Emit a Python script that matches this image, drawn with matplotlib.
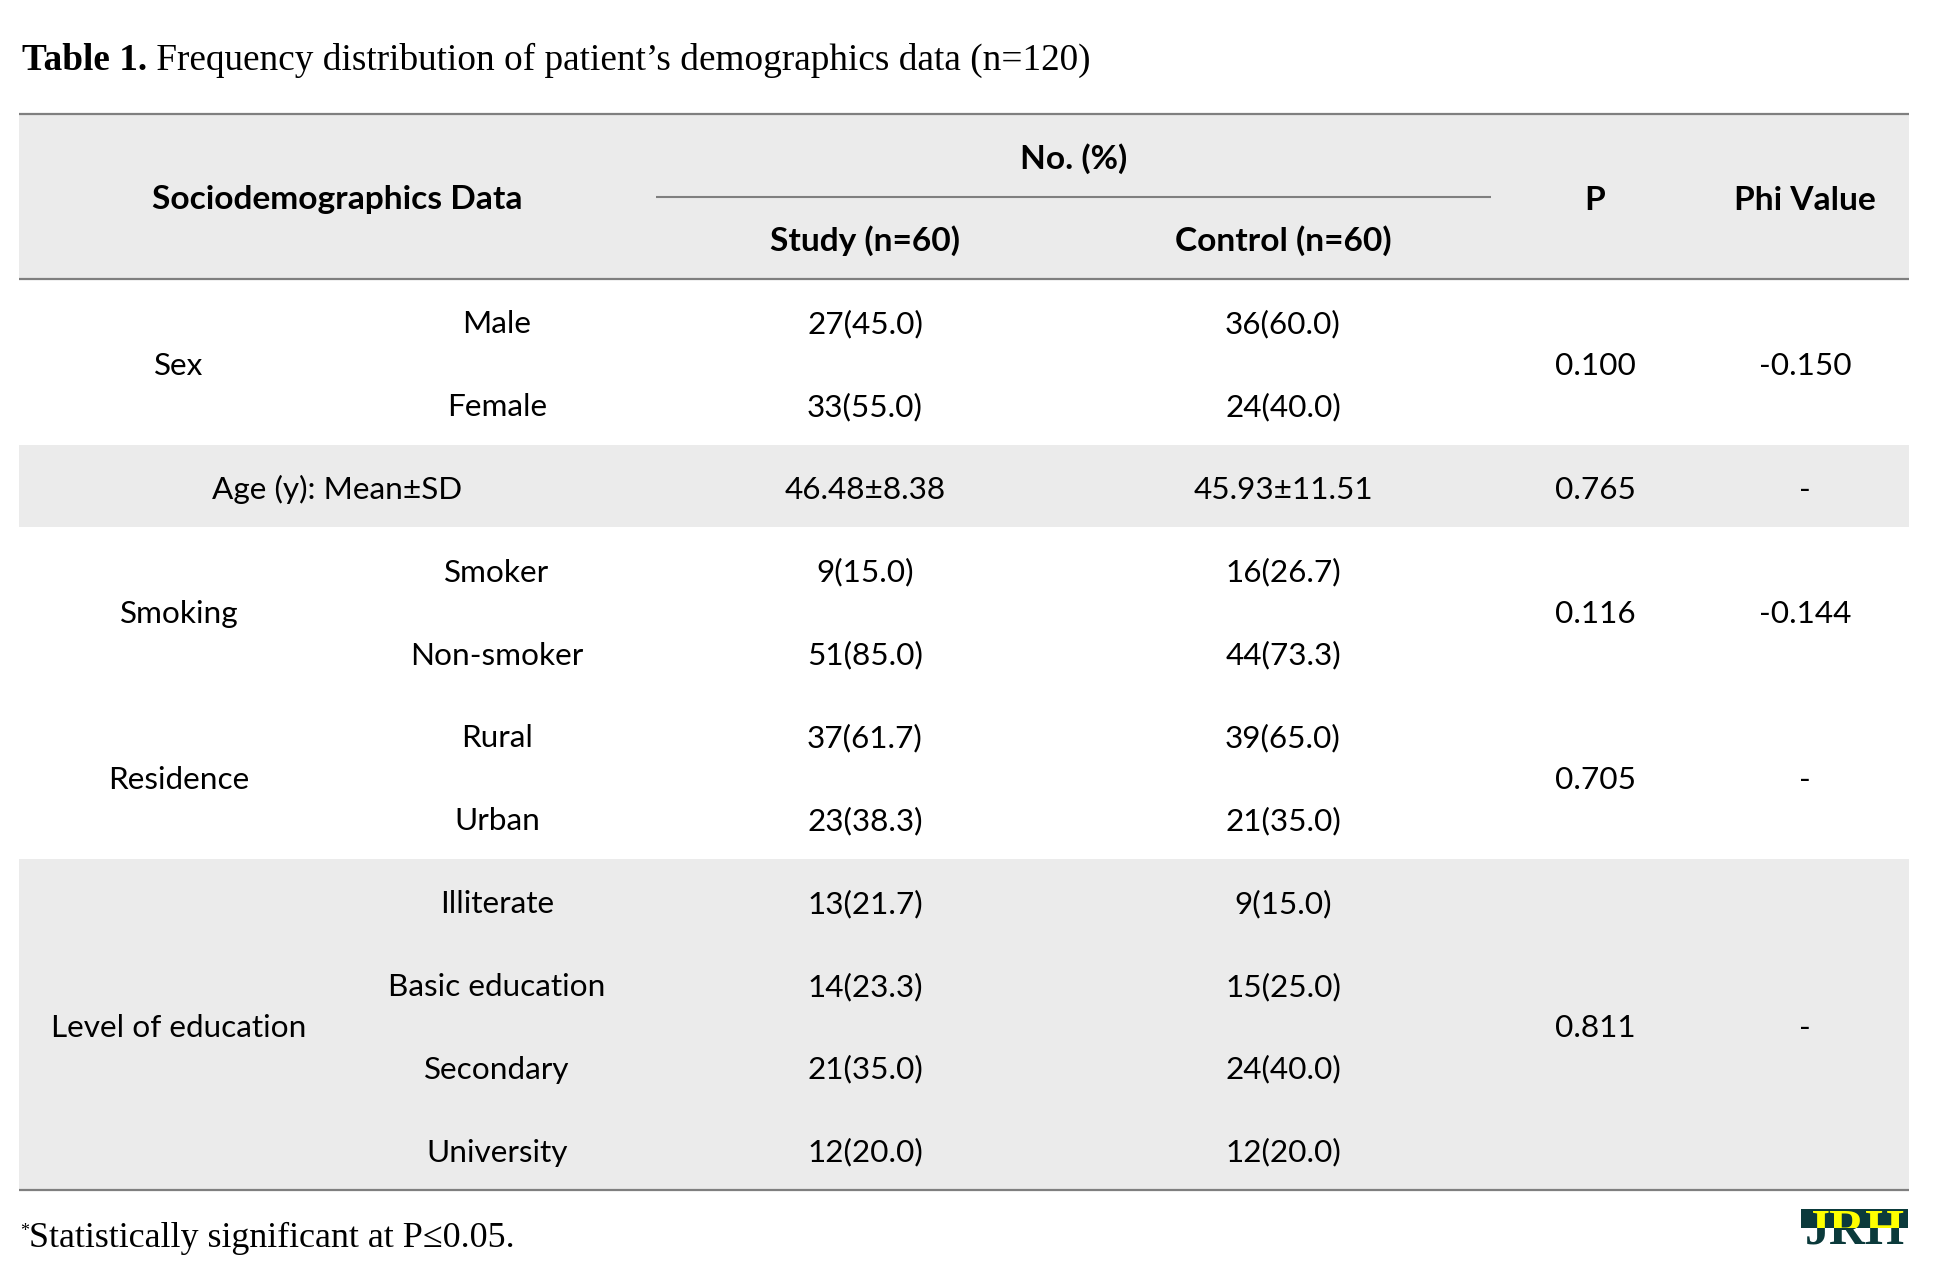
import matplotlib
matplotlib.use('Agg')
import matplotlib.pyplot as plt
from matplotlib.patches import Rectangle
from matplotlib.transforms import Bbox, TransformedBbox

# table content
groups = ['Sex', 'Age (y): Mean±SD', 'Smoking', 'Residence', 'Level of education']
subcats = [['Male', 'Female'], [''], ['Smoker', 'Non-smoker'], ['Rural', 'Urban'],
           ['Illiterate', 'Basic education', 'Secondary', 'University']]
study = ['27(45.0)', '33(55.0)', '46.48±8.38', '9(15.0)', '51(85.0)', '37(61.7)',
         '23(38.3)', '13(21.7)', '14(23.3)', '21(35.0)', '12(20.0)']
control = ['36(60.0)', '24(40.0)', '45.93±11.51', '16(26.7)', '44(73.3)', '39(65.0)',
           '21(35.0)', '9(15.0)', '15(25.0)', '24(40.0)', '12(20.0)']
p_values = ['0.100', '0.765', '0.116', '0.705', '0.811']
phi_values = ['-0.150', '-', '-0.144', '-', '-']
shaded = [False, True, False, False, True]

header_left = 'Sociodemographics Data'
header_span = 'No. (%)'
header_sub = ['Study (n=60)', 'Control (n=60)']
header_p = 'P'
header_phi = 'Phi Value'
title_bold = 'Table 1.'
title_rest = ' Frequency distribution of patient\u2019s demographics data (n=120)'
footnote = 'Statistically significant at P\u22640.05.'

# layout (pixel space)
W, H = 1934, 1287
left, right = 19, 1909
top_rule, head_mid, head_bot, bot_rule = 114, 197, 279, 1190
x_group, x_sub, x_study, x_ctrl, x_p, x_phi = 179, 497, 865, 1283, 1595, 1805
x_span = (left + 656) / 2
mid_x0, mid_x1 = 656, 1491
n_rows = sum(len(s) for s in subcats)
row_h = (bot_rule - head_bot) / n_rows
base_off = 13

gray = '#ebebeb'
rule_c = '#7f7f7f'
body_font = 'Lato'
serif = ['Liberation Serif', 'DejaVu Serif']
fs = 31.5 * 72 / 100
fsb = 33.5 * 72 / 100

fig = plt.figure(figsize=(W / 100, H / 100), dpi=100)
ax = fig.add_axes([0, 0, 1, 1])
ax.set_xlim(0, W)
ax.set_ylim(H, 0)
ax.axis('off')

# header
ax.add_patch(Rectangle((left, top_rule), right - left, head_bot - top_rule, color=gray, lw=0))
hc = (top_rule + head_bot) / 2
ax.text(x_span, hc + base_off, header_left, ha='center', va='baseline',
        fontsize=fsb, fontweight='bold', family=body_font)
ax.text((mid_x0 + mid_x1) / 2, (top_rule + head_mid) / 2 + base_off, header_span,
        ha='center', va='baseline', fontsize=fsb, fontweight='bold', family=body_font)
for xc, lab in zip([x_study, x_ctrl], header_sub):
    ax.text(xc, (head_mid + head_bot) / 2 + base_off, lab, ha='center', va='baseline',
            fontsize=fsb, fontweight='bold', family=body_font)
ax.text(x_p, hc + base_off, header_p, ha='center', va='baseline',
        fontsize=fsb, fontweight='bold', family=body_font)
ax.text(x_phi, hc + base_off, header_phi, ha='center', va='baseline',
        fontsize=fsb, fontweight='bold', family=body_font)
ax.plot([mid_x0, mid_x1], [head_mid, head_mid], color=rule_c, lw=1.5, solid_capstyle='butt')

# body
r = 0
for g, subs in enumerate(subcats):
    y0 = head_bot + r * row_h
    y1 = y0 + len(subs) * row_h
    if shaded[g]:
        ax.add_patch(Rectangle((left, y0), right - left, y1 - y0, color=gray, lw=0))
    gc = (y0 + y1) / 2
    if subs == ['']:
        ax.text(x_span, gc + base_off, groups[g], ha='center', va='baseline',
                fontsize=fs, family=body_font)
    else:
        ax.text(x_group, gc + base_off, groups[g], ha='center', va='baseline',
                fontsize=fs, family=body_font)
    for k, s in enumerate(subs):
        rc = y0 + (k + 0.5) * row_h
        if s:
            ax.text(x_sub, rc + base_off, s, ha='center', va='baseline',
                    fontsize=fs, family=body_font)
        ax.text(x_study, rc + base_off, study[r + k], ha='center', va='baseline',
                fontsize=fs, family=body_font)
        ax.text(x_ctrl, rc + base_off, control[r + k], ha='center', va='baseline',
                fontsize=fs, family=body_font)
    ax.text(x_p, gc + base_off, p_values[g], ha='center', va='baseline',
            fontsize=fs, family=body_font)
    ax.text(x_phi, gc + base_off, phi_values[g], ha='center', va='baseline',
            fontsize=fs, family=body_font)
    r += len(subs)

for yy in [top_rule, head_bot, bot_rule]:
    ax.plot([left, right], [yy, yy], color=rule_c, lw=1.6, solid_capstyle='butt')

# title
tfs = 37.3 * 72 / 100
fig.canvas.draw()
renderer = fig.canvas.get_renderer()
t1 = ax.text(22, 70, title_bold, ha='left', va='baseline', fontsize=tfs,
             fontweight='bold', family=serif)
bb = t1.get_window_extent(renderer)
x_next = ax.transData.inverted().transform((bb.x1, 0))[0]
ax.text(x_next, 70, title_rest, ha='left', va='baseline', fontsize=tfs, family=serif)

# footnote
ffs = 36 * 72 / 100
star = ax.text(20, 1236, '*', ha='left', va='baseline', fontsize=ffs * 0.5, family=serif)
bb = star.get_window_extent(renderer)
x_next = ax.transData.inverted().transform((bb.x1, 0))[0]
ax.text(x_next, 1247, footnote, ha='left', va='baseline', fontsize=ffs, family=serif)

# JRH mark
lx0, lx1, ly0, ly_mid, ly1 = 1801, 1908, 1209, 1228, 1244
dark = '#0b3a3b'
ax.add_patch(Rectangle((lx0, ly0), lx1 - lx0, ly_mid - ly0, color=dark, lw=0))
top_clip = TransformedBbox(Bbox([[lx0, ly0], [lx1, ly_mid]]), ax.transData)
bot_clip = TransformedBbox(Bbox([[lx0, ly_mid], [lx1, H]]), ax.transData)
for col, clip in [('#ffff00', top_clip), (dark, bot_clip)]:
    t = ax.text((lx0 + lx1) / 2, ly1, 'JRH', ha='center', va='baseline',
                fontsize=50 * 72 / 100, fontweight='bold', family=serif, color=col)
    t.set_clip_box(clip)
    t.set_clip_on(True)

fig.savefig('out.png', dpi=100)
